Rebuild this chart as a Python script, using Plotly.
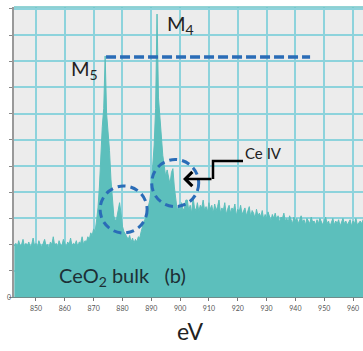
import plotly.graph_objects as go

# ---- data ----
energy_start = 842.5   # eV
energy_step = 0.5      # eV
intensity = [
    1.95, 2.05, 1.9, 2.15, 1.95, 2.0, 2.2, 1.9, 2.05, 1.95,
    2.1, 1.9, 2.0, 2.25, 1.95, 2.05, 1.9, 2.15, 2.0, 1.9,
    2.05, 2.2, 1.95, 2.0, 1.85, 2.1, 2.0, 2.3, 1.95, 2.05,
    1.9, 2.15, 2.0, 1.95, 2.2, 2.05, 1.9, 2.1, 2.0, 2.25,
    1.95, 2.05, 2.0, 2.15, 1.9, 2.1, 2.05, 2.3, 2.0, 2.15,
    2.1, 2.3, 2.2, 2.45, 2.35, 2.6, 2.5, 2.9, 3.4, 4.2,
    5.6, 6.5, 7.2, 9.2, 7.0, 6.4, 5.6, 4.5, 3.7, 3.1,
    2.9, 3.0, 3.3, 3.6, 3.2, 2.7, 2.5, 2.4, 2.3, 2.2,
    2.35, 2.1, 2.25, 2.05, 2.2, 2.1, 2.3, 2.25, 2.5, 2.75,
    2.9, 3.0, 3.2, 3.4, 3.7, 4.2, 4.9, 5.8, 7.2, 10.8,
    7.6, 6.8, 6.0, 5.4, 5.0, 4.6, 4.85, 4.5, 4.3, 4.75,
    4.9, 4.2, 3.6, 3.3, 3.5, 3.2, 3.6, 3.3, 3.4, 3.7,
    3.7, 3.3, 3.5, 3.2, 3.8, 3.4, 3.3, 3.6, 3.25, 3.5,
    3.4, 3.7, 3.3, 3.45, 3.25, 3.6, 3.35, 3.5, 3.2, 3.55,
    3.3, 3.45, 3.7, 3.2, 3.4, 3.3, 3.6, 3.15, 3.35, 3.5,
    3.2, 3.4, 3.3, 3.55, 3.1, 3.35, 3.25, 3.5, 3.15, 3.3,
    3.4, 3.1, 3.25, 3.45, 3.05, 3.3, 3.2, 3.0, 3.35, 3.1,
    3.2, 3.05, 3.3, 2.95, 3.15, 3.0, 3.25, 3.1, 2.9, 3.15,
    3.0, 3.2, 2.95, 3.1, 2.85, 3.05, 3.0, 3.2, 2.9, 3.0,
    2.85, 3.1, 2.95, 2.8, 3.05, 2.9, 3.0, 2.8, 2.95, 3.1,
    2.85, 2.95, 2.75, 3.0, 2.9, 2.8, 3.05, 2.85, 2.9, 2.75,
    2.95, 2.8, 3.0, 2.85, 2.75, 2.9, 3.05, 2.8, 2.9, 2.7,
    2.85, 3.0, 2.75, 2.9, 2.8, 2.95, 2.7, 2.85, 3.0, 2.8,
    2.9, 2.75, 2.85, 2.95, 2.7, 2.9, 2.8, 3.0, 2.75, 2.85,
    2.9, 2.8, 2.95, 2.85,
]
energy = [energy_start + i * energy_step for i in range(len(intensity))]

x_ticks = [850, 860, 870, 880, 890, 900, 910, 920, 930, 940, 950, 960]
y_ticks = list(range(0, 12))

# M4/M5 reference level and its span
ref_level = 9.16
ref_span = [874.3, 945.1]
# circles (centre eV, centre value)
circle_centres = [(880.4, 3.34), (898.3, 4.35)]

# ---- layout geometry ----
W, H = 363, 351
ML, MT, MR, MB = 14, 7, 0, 54
X_RANGE = [842.37, 963.46]
Y_RANGE = [0, 11.07]
pw, ph = W - ML - MR, H - MT - MB

def px2x(px):
    return X_RANGE[0] + (px - ML) / pw * (X_RANGE[1] - X_RANGE[0])

def px2y(py):
    return Y_RANGE[0] + (MT + ph - py) / ph * (Y_RANGE[1] - Y_RANGE[0])

def pp(px, py):
    # figure pixel -> plot-area paper coords
    return (px - ML) / pw, (H - MB - py) / ph

FONT = "Lato, 'Open Sans', sans-serif"
BLUE = "#2a6cb7"
TEAL = "#5cbfbc"

fig = go.Figure()
fig.add_trace(go.Scatter(
    x=energy, y=intensity, mode="lines", fill="tozeroy",
    line=dict(color=TEAL, width=1), fillcolor=TEAL,
    hoverinfo="skip", showlegend=False,
))

shapes = []
# teal top border of the plot area
shapes.append(dict(type="line", xref="paper", yref="paper", x0=0, x1=1, y0=1, y1=1,
                   line=dict(color="#6fc6c8", width=1.5)))
shapes.append(dict(type="line", xref="x", yref="y",
                   x0=ref_span[0], x1=ref_span[1], y0=ref_level, y1=ref_level,
                   line=dict(color=BLUE, width=3.5, dash="10px,4px")))
rx = 23.5 / pw * (X_RANGE[1] - X_RANGE[0])
ry = 23.5 / ph * (Y_RANGE[1] - Y_RANGE[0])
for cx, cy in circle_centres:
    shapes.append(dict(type="circle", xref="x", yref="y",
                       x0=cx - rx, x1=cx + rx, y0=cy - ry, y1=cy + ry,
                       line=dict(color=BLUE, width=3, dash="8px,5px")))
# arrow leader line
path = "M {},{} L {},{} L {},{}".format(px2x(243), px2y(161), px2x(213), px2y(161),
                                        px2x(213), px2y(179))
shapes.append(dict(type="path", xref="x", yref="y", path=path,
                   line=dict(color="black", width=2.5)))

def label(px, py, text, size, color="#222", xanchor="center"):
    x, y = pp(px, py)
    return dict(x=x, y=y, xref="paper", yref="paper", text=text, showarrow=False,
                xanchor=xanchor, yanchor="middle",
                font=dict(family=FONT, size=size, color=color))

annotations = [
    label(84, 69, "M<sub>5</sub>", 20),
    label(180, 24, "M<sub>4</sub>", 20),
    label(243, 153, "Ce IV", 15, xanchor="left"),
    label(57, 276, "CeO<sub>2</sub> bulk&nbsp;&nbsp;&nbsp;(b)", 20, color="#1d2f35",
          xanchor="left"),
    label(190, 331, "eV", 23),
    label(9, 297, "0", 7, color="#555"),
    dict(x=px2x(183), y=px2y(179), ax=px2x(213), ay=px2y(179),
         xref="x", yref="y", axref="x", ayref="y", text="",
         showarrow=True, arrowhead=4, arrowsize=1.1, arrowwidth=2.5,
         arrowcolor="black"),
]

fig.update_layout(
    width=W, height=H,
    margin=dict(l=ML, r=MR, t=MT, b=MB, autoexpand=False),
    paper_bgcolor="white", plot_bgcolor="#ececec",
    shapes=shapes, annotations=annotations, showlegend=False,
    xaxis=dict(range=X_RANGE, tickvals=x_ticks, ticks="outside", ticklen=3,
               tickcolor="#777", tickwidth=1, showgrid=True,
               gridcolor="#8dd3dc", gridwidth=1.5, zeroline=False,
               showline=True, linecolor="#6f8c8b", linewidth=1,
               tickfont=dict(family=FONT, size=7, color="#555"), ticklabelstandoff=2),
    yaxis=dict(range=Y_RANGE, tickvals=y_ticks, showticklabels=False, ticks="outside",
               ticklen=3, tickcolor="#888", showgrid=True, gridcolor="#8dd3dc",
               gridwidth=1.5, zeroline=False, showline=True, linecolor="#999",
               linewidth=2),
)
fig.write_html("out.html", config={"displayModeBar": False},
               post_script="document.body.style.margin='0';")
